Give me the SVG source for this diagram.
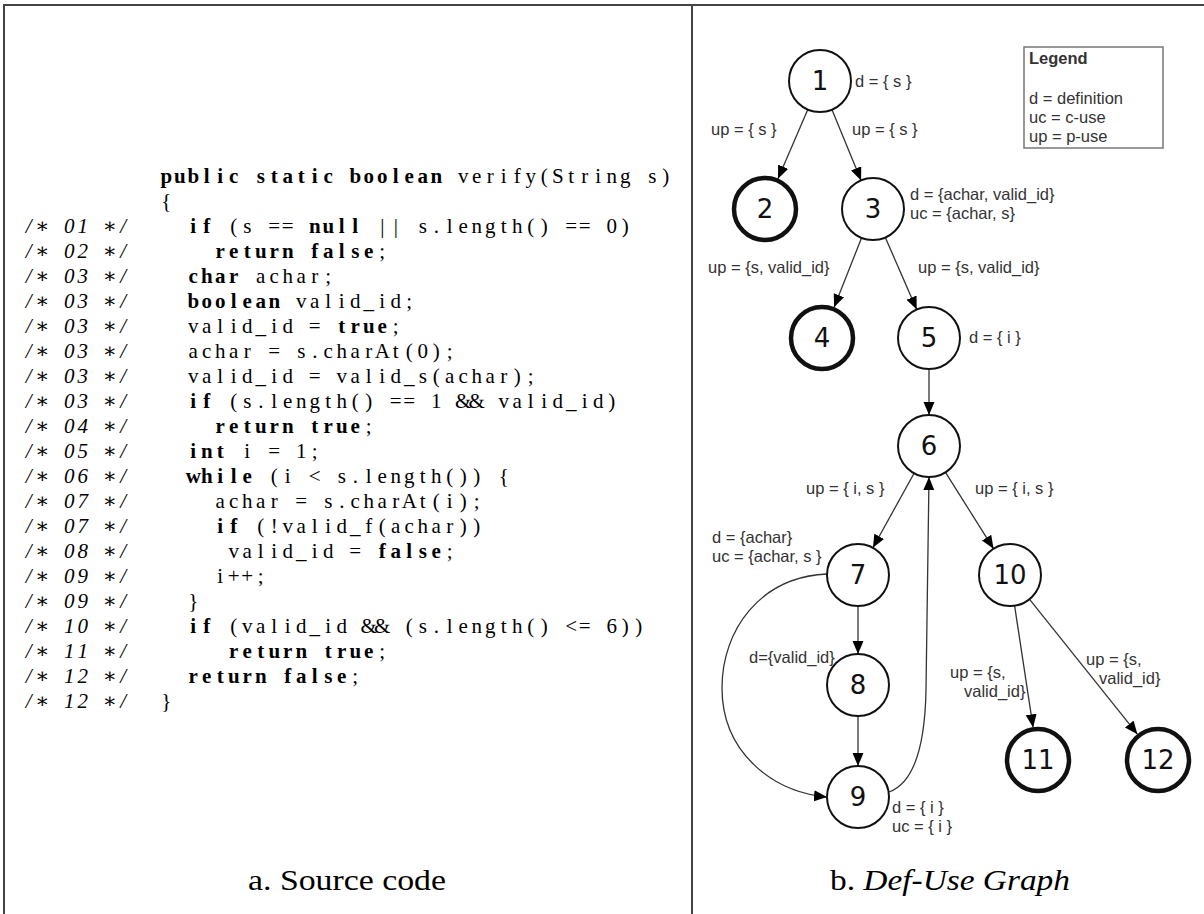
<svg xmlns="http://www.w3.org/2000/svg" width="1204" height="914" viewBox="0 0 1204 914">
<style>
.code{font-family:"Liberation Serif","DejaVu Serif",serif;font-size:21px;text-anchor:middle;fill:#000}
.b{font-weight:bold}
.cm{font-style:italic}
.cap{font-family:"Liberation Serif","DejaVu Serif",serif;font-size:30px;text-anchor:middle;fill:#000}
.num{font-family:"DejaVu Sans",sans-serif;font-size:26px;text-anchor:middle;fill:#111}
.lbl{font-family:"Liberation Sans",Arial,sans-serif;font-size:16.5px;fill:#333}
.node circle{fill:#fff;stroke:#111;stroke-width:2}
.final circle{stroke-width:4.5}
.edge{fill:none;stroke:#333;stroke-width:1.3;marker-end:url(#ah)}
.frame{stroke:#444;stroke-width:2;fill:none}
</style>
<defs>
<marker id="ah" markerWidth="14" markerHeight="12" refX="13" refY="5.5" orient="auto" markerUnits="userSpaceOnUse"><path d="M0,0 L13,5.5 L0,11 z" fill="#000"/></marker>
</defs>
<rect width="1204" height="914" fill="#fff"/>
<g id="frame">
<line class="frame" x1="3" y1="5" x2="1204" y2="5"/>
<line class="frame" x1="4" y1="5" x2="4" y2="914"/>
<line class="frame" x1="692" y1="5" x2="692" y2="914"/>
</g>
<g id="source-code">
<text class="code" y="183"><tspan class="b" x="166.25 179.75 193.25 206.75 220.25 233.75">public</tspan><tspan class="b" x="260.75 274.25 287.75 301.25 314.75 328.25">static</tspan><tspan class="b" x="355.25 368.75 382.25 395.75 409.25 422.75 436.25">boolean</tspan><tspan x="463.25 476.75 490.25 503.75 517.25 530.75 544.25 557.75 571.25 584.75 598.25 611.75 625.25">verify(String</tspan><tspan x="652.25 665.75">s)</tspan></text>
<text class="code" y="208" x="166.25">{</text>
<text class="code" y="233"><tspan class="b" x="193.25 206.75">if</tspan><tspan x="233.75 247.25">(s</tspan><tspan x="274.25 287.75">==</tspan><tspan class="b" x="314.75 328.25 341.75 355.25">null</tspan><tspan x="382.25 395.75">||</tspan><tspan x="422.75 436.25 449.75 463.25 476.75 490.25 503.75 517.25 530.75 544.25">s.length()</tspan><tspan x="571.25 584.75">==</tspan><tspan x="611.75 625.25">0)</tspan></text>
<text class="code" y="258"><tspan class="b" x="220.25 233.75 247.25 260.75 274.25 287.75">return</tspan><tspan class="b" x="314.75 328.25 341.75 355.25 368.75">false</tspan><tspan x="382.25">;</tspan></text>
<text class="code" y="283"><tspan class="b" x="193.25 206.75 220.25 233.75">char</tspan><tspan x="260.75 274.25 287.75 301.25 314.75 328.25">achar;</tspan></text>
<text class="code" y="308"><tspan class="b" x="193.25 206.75 220.25 233.75 247.25 260.75 274.25">boolean</tspan><tspan x="301.25 314.75 328.25 341.75 355.25 368.75 382.25 395.75 409.25">valid_id;</tspan></text>
<text class="code" y="333"><tspan x="193.25 206.75 220.25 233.75 247.25 260.75 274.25 287.75">valid_id</tspan><tspan x="314.75">=</tspan><tspan class="b" x="341.75 355.25 368.75 382.25">true</tspan><tspan x="395.75">;</tspan></text>
<text class="code" y="358"><tspan x="193.25 206.75 220.25 233.75 247.25">achar</tspan><tspan x="274.25">=</tspan><tspan x="301.25 314.75 328.25 341.75 355.25 368.75 382.25 395.75 409.25 422.75 436.25 449.75">s.charAt(0);</tspan></text>
<text class="code" y="383"><tspan x="193.25 206.75 220.25 233.75 247.25 260.75 274.25 287.75">valid_id</tspan><tspan x="314.75">=</tspan><tspan x="341.75 355.25 368.75 382.25 395.75 409.25 422.75 436.25 449.75 463.25 476.75 490.25 503.75 517.25 530.75">valid_s(achar);</tspan></text>
<text class="code" y="408"><tspan class="b" x="193.25 206.75">if</tspan><tspan x="233.75 247.25 260.75 274.25 287.75 301.25 314.75 328.25 341.75 355.25 368.75">(s.length()</tspan><tspan x="395.75 409.25">==</tspan><tspan x="436.25">1</tspan><tspan x="463.25 476.75">&amp;&amp;</tspan><tspan x="503.75 517.25 530.75 544.25 557.75 571.25 584.75 598.25 611.75">valid_id)</tspan></text>
<text class="code" y="433"><tspan class="b" x="220.25 233.75 247.25 260.75 274.25 287.75">return</tspan><tspan class="b" x="314.75 328.25 341.75 355.25">true</tspan><tspan x="368.75">;</tspan></text>
<text class="code" y="458"><tspan class="b" x="193.25 206.75 220.25">int</tspan><tspan x="247.25">i</tspan><tspan x="274.25">=</tspan><tspan x="301.25 314.75">1;</tspan></text>
<text class="code" y="483"><tspan class="b" x="193.25 206.75 220.25 233.75 247.25">while</tspan><tspan x="274.25 287.75">(i</tspan><tspan x="314.75">&lt;</tspan><tspan x="341.75 355.25 368.75 382.25 395.75 409.25 422.75 436.25 449.75 463.25 476.75">s.length())</tspan><tspan x="503.75">{</tspan></text>
<text class="code" y="508"><tspan x="220.25 233.75 247.25 260.75 274.25">achar</tspan><tspan x="301.25">=</tspan><tspan x="328.25 341.75 355.25 368.75 382.25 395.75 409.25 422.75 436.25 449.75 463.25 476.75">s.charAt(i);</tspan></text>
<text class="code" y="533"><tspan class="b" x="220.25 233.75">if</tspan><tspan x="260.75 274.25 287.75 301.25 314.75 328.25 341.75 355.25 368.75 382.25 395.75 409.25 422.75 436.25 449.75 463.25 476.75">(!valid_f(achar))</tspan></text>
<text class="code" y="558"><tspan x="233.75 247.25 260.75 274.25 287.75 301.25 314.75 328.25">valid_id</tspan><tspan x="355.25">=</tspan><tspan class="b" x="382.25 395.75 409.25 422.75 436.25">false</tspan><tspan x="449.75">;</tspan></text>
<text class="code" y="583" x="220.25 233.75 247.25 260.75">i++;</text>
<text class="code" y="608" x="193.25">}</text>
<text class="code" y="633"><tspan class="b" x="193.25 206.75">if</tspan><tspan x="233.75 247.25 260.75 274.25 287.75 301.25 314.75 328.25 341.75">(valid_id</tspan><tspan x="368.75 382.25">&amp;&amp;</tspan><tspan x="409.25 422.75 436.25 449.75 463.25 476.75 490.25 503.75 517.25 530.75 544.25">(s.length()</tspan><tspan x="571.25 584.75">&lt;=</tspan><tspan x="611.75 625.25 638.75">6))</tspan></text>
<text class="code" y="658"><tspan class="b" x="233.75 247.25 260.75 274.25 287.75 301.25">return</tspan><tspan class="b" x="328.25 341.75 355.25 368.75">true</tspan><tspan x="382.25">;</tspan></text>
<text class="code" y="683"><tspan class="b" x="193.25 206.75 220.25 233.75 247.25 260.75">return</tspan><tspan class="b" x="287.75 301.25 314.75 328.25 341.75">false</tspan><tspan x="355.25">;</tspan></text>
<text class="code" y="708" x="166.25">}</text>
</g>
<g id="line-comments" class="code cm">
<text x="28.75 42.25 69.25 82.75 109.75 123.25" y="233">/∗01∗/</text>
<text x="28.75 42.25 69.25 82.75 109.75 123.25" y="258">/∗02∗/</text>
<text x="28.75 42.25 69.25 82.75 109.75 123.25" y="283">/∗03∗/</text>
<text x="28.75 42.25 69.25 82.75 109.75 123.25" y="308">/∗03∗/</text>
<text x="28.75 42.25 69.25 82.75 109.75 123.25" y="333">/∗03∗/</text>
<text x="28.75 42.25 69.25 82.75 109.75 123.25" y="358">/∗03∗/</text>
<text x="28.75 42.25 69.25 82.75 109.75 123.25" y="383">/∗03∗/</text>
<text x="28.75 42.25 69.25 82.75 109.75 123.25" y="408">/∗03∗/</text>
<text x="28.75 42.25 69.25 82.75 109.75 123.25" y="433">/∗04∗/</text>
<text x="28.75 42.25 69.25 82.75 109.75 123.25" y="458">/∗05∗/</text>
<text x="28.75 42.25 69.25 82.75 109.75 123.25" y="483">/∗06∗/</text>
<text x="28.75 42.25 69.25 82.75 109.75 123.25" y="508">/∗07∗/</text>
<text x="28.75 42.25 69.25 82.75 109.75 123.25" y="533">/∗07∗/</text>
<text x="28.75 42.25 69.25 82.75 109.75 123.25" y="558">/∗08∗/</text>
<text x="28.75 42.25 69.25 82.75 109.75 123.25" y="583">/∗09∗/</text>
<text x="28.75 42.25 69.25 82.75 109.75 123.25" y="608">/∗09∗/</text>
<text x="28.75 42.25 69.25 82.75 109.75 123.25" y="633">/∗10∗/</text>
<text x="28.75 42.25 69.25 82.75 109.75 123.25" y="658">/∗11∗/</text>
<text x="28.75 42.25 69.25 82.75 109.75 123.25" y="683">/∗12∗/</text>
<text x="28.75 42.25 69.25 82.75 109.75 123.25" y="708">/∗12∗/</text>
</g>
<g id="captions">
<text class="cap" x="347" y="890" textLength="198" lengthAdjust="spacingAndGlyphs">a. Source code</text>
<text class="cap" x="950" y="890" textLength="240" lengthAdjust="spacingAndGlyphs">b. <tspan font-style="italic">Def-Use Graph</tspan></text>
</g>
<g id="connectors">
<line class="edge" x1="807.8" y1="109.5" x2="778" y2="178.7"/>
<line class="edge" x1="831.9" y1="109.6" x2="861.1" y2="180.4"/>
<line class="edge" x1="861.6" y1="237.8" x2="834.1" y2="307.3"/>
<line class="edge" x1="885.3" y1="237.4" x2="916.7" y2="309.6"/>
<line class="edge" x1="929" y1="369" x2="929" y2="415"/>
<line class="edge" x1="914.1" y1="473.2" x2="872.9" y2="547.8"/>
<line class="edge" x1="945.5" y1="472.3" x2="993.5" y2="548.7"/>
<line class="edge" x1="858" y1="606" x2="858" y2="654"/>
<line class="edge" x1="858" y1="716" x2="858" y2="766"/>
<path class="edge" d="M827,574 C760,577 722,630 722,688 C722,752 772,792 827,797"/>
<path class="edge" d="M889,792 C914,783 925,745 926,690 L929,477"/>
<line class="edge" x1="1014.6" y1="605.7" x2="1033.1" y2="727.4"/>
<line class="edge" x1="1029.4" y1="599.2" x2="1137.4" y2="734.2"/>
</g>
<g id="n1" class="node"><circle cx="820" cy="81" r="31"/><text class="num" x="820" y="90">1</text></g>
<g id="n2" class="node final"><circle cx="765" cy="209" r="31"/><text class="num" x="765" y="218">2</text></g>
<g id="n3" class="node"><circle cx="873" cy="209" r="31"/><text class="num" x="873" y="218">3</text></g>
<g id="n4" class="node final"><circle cx="822" cy="338" r="31"/><text class="num" x="822" y="347">4</text></g>
<g id="n5" class="node"><circle cx="929" cy="338" r="31"/><text class="num" x="929" y="347">5</text></g>
<g id="n6" class="node"><circle cx="929" cy="446" r="31"/><text class="num" x="929" y="455">6</text></g>
<g id="n7" class="node"><circle cx="858" cy="575" r="31"/><text class="num" x="858" y="584">7</text></g>
<g id="n8" class="node"><circle cx="858" cy="685" r="31"/><text class="num" x="858" y="694">8</text></g>
<g id="n9" class="node"><circle cx="858" cy="797" r="31"/><text class="num" x="858" y="806">9</text></g>
<g id="n10" class="node"><circle cx="1010" cy="575" r="31"/><text class="num" x="1010" y="584">10</text></g>
<g id="n11" class="node final"><circle cx="1038" cy="760" r="31"/><text class="num" x="1038" y="769">11</text></g>
<g id="n12" class="node final"><circle cx="1158" cy="760" r="31"/><text class="num" x="1158" y="769">12</text></g>
<g id="labels" class="lbl">
<text x="855" y="87">d = { s }</text>
<text x="711" y="135">up = { s }</text>
<text x="852" y="135">up = { s }</text>
<text x="910" y="200">d = {achar, valid_id}</text>
<text x="910" y="219">uc = {achar, s}</text>
<text x="708" y="273">up = {s, valid_id}</text>
<text x="918" y="273">up = {s, valid_id}</text>
<text x="969" y="343">d = { i }</text>
<text x="806" y="494">up = { i, s }</text>
<text x="975" y="494">up = { i, s }</text>
<text x="712" y="543">d = {achar}</text>
<text x="712" y="562">uc = {achar, s }</text>
<text x="749" y="663">d={valid_id}</text>
<text x="892" y="813">d = { i }</text>
<text x="892" y="832">uc = { i }</text>
<text x="950" y="678">up = {s,</text>
<text x="964" y="697">valid_id}</text>
<text x="1086" y="665">up = {s,</text>
<text x="1099" y="684">valid_id}</text>
</g>
<g id="legend">
<rect x="1024" y="47" width="139" height="101" fill="#fff" stroke="#777" stroke-width="1.5"/>
<text class="lbl" x="1029" y="64" font-weight="bold" font-size="17" fill="#111">Legend</text>
<text class="lbl" x="1029" y="104">d = definition</text>
<text class="lbl" x="1029" y="123">uc = c-use</text>
<text class="lbl" x="1029" y="142">up = p-use</text>
</g>
</svg>
